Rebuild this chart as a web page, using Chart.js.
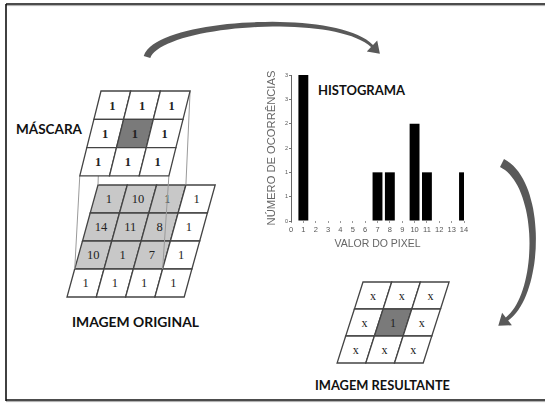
<!DOCTYPE html>
<html>
<head>
<meta charset="utf-8">
<script src="https://cdn.jsdelivr.net/npm/chart.js@4.4.1/dist/chart.umd.min.js"></script>
<style>
  html, body { margin: 0; padding: 0; background: #fff; }
  #wrap { position: relative; width: 545px; height: 403px; overflow: hidden; }
  #wrap svg, #wrap canvas { position: absolute; left: 0; top: 0; }
  #scheme text { -webkit-font-smoothing: antialiased; }
</style>
</head>
<body>
<div id="wrap">
  <svg id="scheme" width="545" height="403" xmlns="http://www.w3.org/2000/svg"></svg>
  <canvas id="histo" width="545" height="403"></canvas>
</div>
<script>
// histogram data
const pixelValues = ['0', '1', '2', '3', '4', '5', '6', '7', '8', '9', '10', '11', '12', '13', '14'];
const occurrences = [0, 3, 0, 0, 0, 0, 0, 1, 1, 0, 2, 1, 0, 0, 1];
const yTickLabels = ['0', '1', '1', '2', '2', '3', '3'];

// grids of the diagram
const maskValues = [[1, 1, 1], [1, 1, 1], [1, 1, 1]];
const imageValues = [[1, 10, 1, 1], [14, 11, 8, 1], [10, 1, 7, 1], [1, 1, 1, 1]];
const resultValues = [['x', 'x', 'x'], ['x', '1', 'x'], ['x', 'x', 'x']];

const NS = 'http://www.w3.org/2000/svg';
const svg = document.getElementById('scheme');

function el(tag, attrs, text) {
    const node = document.createElementNS(NS, tag);
    for (const k in attrs) node.setAttribute(k, attrs[k]);
    if (text !== undefined) node.textContent = text;
    svg.appendChild(node);
    return node;
}

// corner of a slanted grid
function corner(g, c, r) {
    return [g.x0 + c * g.cw - g.skew * r * g.ch, g.y0 + r * g.ch];
}

function drawGrid(g, values, fillOf, font) {
    values.forEach((row, r) => {
        row.forEach((v, c) => {
            const a = corner(g, c, r), b = corner(g, c + 1, r);
            const d = corner(g, c + 1, r + 1), e = corner(g, c, r + 1);
            const pts = [a, b, d, e].map(p => p[0].toFixed(1) + ',' + p[1].toFixed(1)).join(' ');
            el('polygon', { points: pts, fill: fillOf(r, c), stroke: '#444', 'stroke-width': 1.3 });
            const cx = (a[0] + b[0] + d[0] + e[0]) / 4;
            const cy = (a[1] + b[1] + d[1] + e[1]) / 4;
            el('text', {
                x: cx, y: cy + font.size * 0.35, 'text-anchor': 'middle',
                'font-family': 'Liberation Serif', 'font-size': font.size,
                'font-weight': font.weight, fill: '#222'
            }, String(v));
        });
    });
}

function arrowPath(p0, p1, p2, p3, w0, w1, headLen, headW) {
    const n = 40, left = [], right = [];
    let tx = 1, ty = 0;
    for (let i = 0; i <= n; i++) {
        const t = i / n, u = 1 - t;
        const x = u*u*u*p0[0] + 3*u*u*t*p1[0] + 3*u*t*t*p2[0] + t*t*t*p3[0];
        const y = u*u*u*p0[1] + 3*u*u*t*p1[1] + 3*u*t*t*p2[1] + t*t*t*p3[1];
        const dx = 3*u*u*(p1[0]-p0[0]) + 6*u*t*(p2[0]-p1[0]) + 3*t*t*(p3[0]-p2[0]);
        const dy = 3*u*u*(p1[1]-p0[1]) + 6*u*t*(p2[1]-p1[1]) + 3*t*t*(p3[1]-p2[1]);
        const len = Math.hypot(dx, dy);
        tx = dx / len; ty = dy / len;
        const w = (w0 + (w1 - w0) * t) / 2;
        left.push([x - ty * w, y + tx * w]);
        right.push([x + ty * w, y - tx * w]);
    }
    const e = p3;
    const hl = [e[0] - ty * headW / 2, e[1] + tx * headW / 2];
    const hr = [e[0] + ty * headW / 2, e[1] - tx * headW / 2];
    const tip = [e[0] + tx * headLen, e[1] + ty * headLen];
    const pts = left.concat([hl, tip, hr], right.reverse());
    return 'M' + pts.map(p => p[0].toFixed(1) + ',' + p[1].toFixed(1)).join('L') + 'Z';
}

// frame
el('line', { x1: 6, y1: 4, x2: 545, y2: 4, stroke: '#111', 'stroke-width': 1.6 });
el('line', { x1: 6, y1: 5.6, x2: 545, y2: 5.6, stroke: '#aaa', 'stroke-width': 1 });
el('line', { x1: 6, y1: 4, x2: 6, y2: 401, stroke: '#111', 'stroke-width': 1.6 });
el('line', { x1: 6, y1: 400, x2: 545, y2: 400, stroke: '#111', 'stroke-width': 1.6 });
el('line', { x1: 6, y1: 401.6, x2: 545, y2: 401.6, stroke: '#aaa', 'stroke-width': 1 });

// arrows
el('path', { d: arrowPath([147, 57], [158, 22], [335, 10], [372, 46], 7, 3, 11, 15), fill: '#595959' });
el('path', { d: arrowPath([502, 163], [542, 183], [542, 292], [507, 319], 9, 4, 11, 16), fill: '#595959' });

// original image with the gray 3x3 neighbourhood
const imgGrid = { x0: 98, y0: 185, cw: 29.3, ch: 28, skew: 0.277 };
drawGrid(imgGrid, imageValues, (r, c) => (r < 3 && c < 3 ? '#c8c8c8' : '#fff'), { size: 12.5, weight: 'normal' });

// mask and projection lines
const maskGrid = { x0: 101, y0: 91, cw: 29.7, ch: 28.3, skew: 0.25 };
[[0, 0], [3, 0], [0, 3], [3, 3]].forEach(([c, r]) => {
    const a = corner(maskGrid, c, r), b = corner(imgGrid, c, r);
    el('line', { x1: a[0], y1: a[1], x2: b[0], y2: b[1], stroke: '#9a9a9a', 'stroke-width': 1 });
});
drawGrid(maskGrid, maskValues, (r, c) => (r === 1 && c === 1 ? '#7a7a7a' : '#fff'), { size: 12.5, weight: 'bold' });

// resulting image
const resGrid = { x0: 363, y0: 282, cw: 28.7, ch: 27, skew: 0.32 };
drawGrid(resGrid, resultValues, (r, c) => (r === 1 && c === 1 ? '#7a7a7a' : '#fff'), { size: 12, weight: 'normal' });

// labels
function label(text, x, y, w) {
    el('text', {
        x: x, y: y, 'font-family': 'Lato', 'font-weight': 'bold', 'font-size': 12.5,
        fill: '#111', textLength: w, lengthAdjust: 'spacingAndGlyphs'
    }, text);
}
label('MÁSCARA', 16, 133.5, 66);
label('IMAGEM ORIGINAL', 72, 326.5, 127);
label('IMAGEM RESULTANTE', 315, 389.5, 135);
label('HISTOGRAMA', 318, 95, 87);

// histogram
new Chart(document.getElementById('histo'), {
    type: 'bar',
    data: {
        labels: pixelValues,
        datasets: [{
            data: occurrences,
            backgroundColor: '#000',
            borderWidth: 0,
            barPercentage: 0.8,
            categoryPercentage: 1
        }]
    },
    options: {
        responsive: false,
        animation: false,
        devicePixelRatio: 1,
        layout: { padding: { left: 250, top: 75, right: 81, bottom: 152 } },
        plugins: { legend: { display: false }, tooltip: { enabled: false } },
        scales: {
            x: {
                offset: false,
                grid: { display: true, offset: false, drawOnChartArea: false, tickLength: 2, color: '#999' },
                border: { display: false },
                ticks: {
                    autoSkip: false, maxRotation: 0, padding: 2, color: '#555',
                    font: { family: 'Liberation Sans', size: 7.5 }
                },
                title: {
                    display: true, text: 'VALOR DO PIXEL', color: '#666',
                    font: { family: 'Liberation Sans', size: 10.5 },
                    padding: { top: 0, bottom: 1 }
                },
                afterFit(scale) { scale.height = 30; }
            },
            y: {
                min: 0,
                max: 3,
                ticks: {
                    stepSize: 0.5, padding: 1, color: '#555',
                    font: { family: 'Liberation Sans', size: 5.5 },
                    callback: (v, i) => yTickLabels[i]
                },
                grid: { drawOnChartArea: false, tickLength: 2, color: '#777' },
                border: { display: true, color: '#666' },
                title: {
                    display: true, text: 'NÚMERO DE OCORRÊNCIAS', color: '#666',
                    font: { family: 'Liberation Sans', size: 11.2 },
                    padding: { top: 15.3, bottom: 0 }
                },
                afterFit(scale) { scale.width = 41; }
            }
        }
    }
});
</script>
</body>
</html>
